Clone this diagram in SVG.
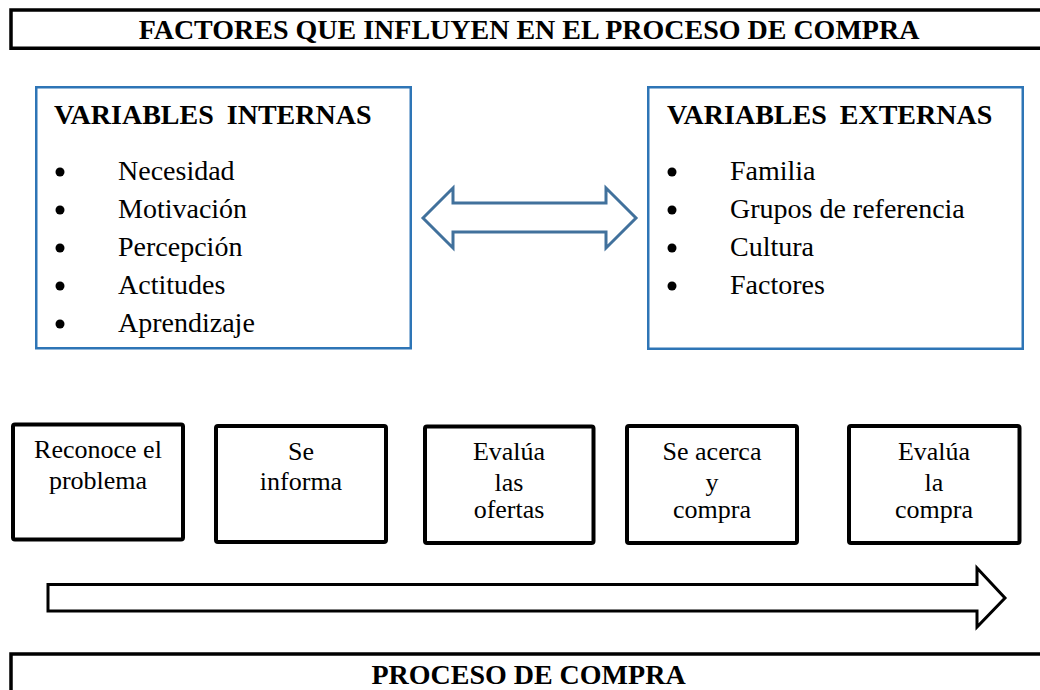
<svg xmlns="http://www.w3.org/2000/svg" width="1040" height="690" viewBox="0 0 1040 690">
<style>
.t{font-family:"Liberation Serif","Times New Roman",serif;fill:#000}
.title{font-size:28px;font-weight:bold;text-anchor:middle}
.hdr{font-size:28px;font-weight:bold;word-spacing:6px}
.item{font-size:28px}
.step{font-size:26px;text-anchor:middle}
.blue{fill:#fff;stroke:#2E75B6;stroke-width:2.5}
.step-box{fill:#fff;stroke:#000;stroke-width:4}
.bar{fill:none;stroke:#000;stroke-width:3.5}
</style>
<rect width="1040" height="690" fill="#fff"/>

<g id="title-top">
<path class="bar" d="M1045 10 H11 V48.3 H1045"/>
<text class="t title" x="529" y="39">FACTORES QUE INFLUYEN EN EL PROCESO DE COMPRA</text>
</g>

<g id="variables-internas">
<rect class="blue" x="36.25" y="87.25" width="374.5" height="261"/>
<text class="t hdr" x="54" y="124">VARIABLES INTERNAS</text>
<g class="t item">
<circle cx="60" cy="172" r="4.5"/><text x="118" y="180">Necesidad</text>
<circle cx="60" cy="210" r="4.5"/><text x="118" y="218">Motivación</text>
<circle cx="60" cy="248" r="4.5"/><text x="118" y="256">Percepción</text>
<circle cx="60" cy="286" r="4.5"/><text x="118" y="294">Actitudes</text>
<circle cx="60" cy="324" r="4.5"/><text x="118" y="332">Aprendizaje</text>
</g>
</g>

<g id="variables-externas">
<rect class="blue" x="648.25" y="87.25" width="374.5" height="261.5"/>
<text class="t hdr" x="667" y="124">VARIABLES EXTERNAS</text>
<g class="t item">
<circle cx="672" cy="172" r="4.5"/><text x="730" y="180">Familia</text>
<circle cx="672" cy="210" r="4.5"/><text x="730" y="218">Grupos de referencia</text>
<circle cx="672" cy="248" r="4.5"/><text x="730" y="256">Cultura</text>
<circle cx="672" cy="286" r="4.5"/><text x="730" y="294">Factores</text>
</g>
</g>

<g id="step-1">
<rect class="step-box" x="13" y="424.5" width="170" height="115" rx="2"/>
<text class="t step" x="98" y="458">Reconoce el</text>
<text class="t step" x="98" y="489">problema</text>
</g>
<g id="step-2">
<rect class="step-box" x="216" y="426" width="170" height="116" rx="2"/>
<text class="t step" x="301" y="460">Se</text>
<text class="t step" x="301" y="490">informa</text>
</g>
<g id="step-3">
<rect class="step-box" x="425" y="426.5" width="168.5" height="116.5" rx="2"/>
<text class="t step" x="509" y="460">Evalúa</text>
<text class="t step" x="509" y="491">las</text>
<text class="t step" x="509" y="518">ofertas</text>
</g>
<g id="step-4">
<rect class="step-box" x="627" y="426" width="170" height="117" rx="2"/>
<text class="t step" x="712" y="460">Se acerca</text>
<text class="t step" x="712" y="491">y</text>
<text class="t step" x="712" y="518">compra</text>
</g>
<g id="step-5">
<rect class="step-box" x="849" y="426" width="170.5" height="117" rx="2"/>
<text class="t step" x="934" y="460">Evalúa</text>
<text class="t step" x="934" y="491">la</text>
<text class="t step" x="934" y="518">compra</text>
</g>

<g id="title-bottom">
<path class="bar" d="M1045 654 H11 V700"/>
<text class="t title" x="528.5" y="684">PROCESO DE COMPRA</text>
</g>

<g id="connectors">
<polygon points="423,218 453,188 453,203 606,203 606,188 636,218 606,248 606,232 453,232 453,248" fill="#fff" stroke="#41719C" stroke-width="3" stroke-linejoin="miter"/>
<polygon points="48,584.5 977,584.5 977,568 1005,598 977,627 977,611 48,611" fill="#fff" stroke="#000" stroke-width="3"/>
</g>
</svg>
